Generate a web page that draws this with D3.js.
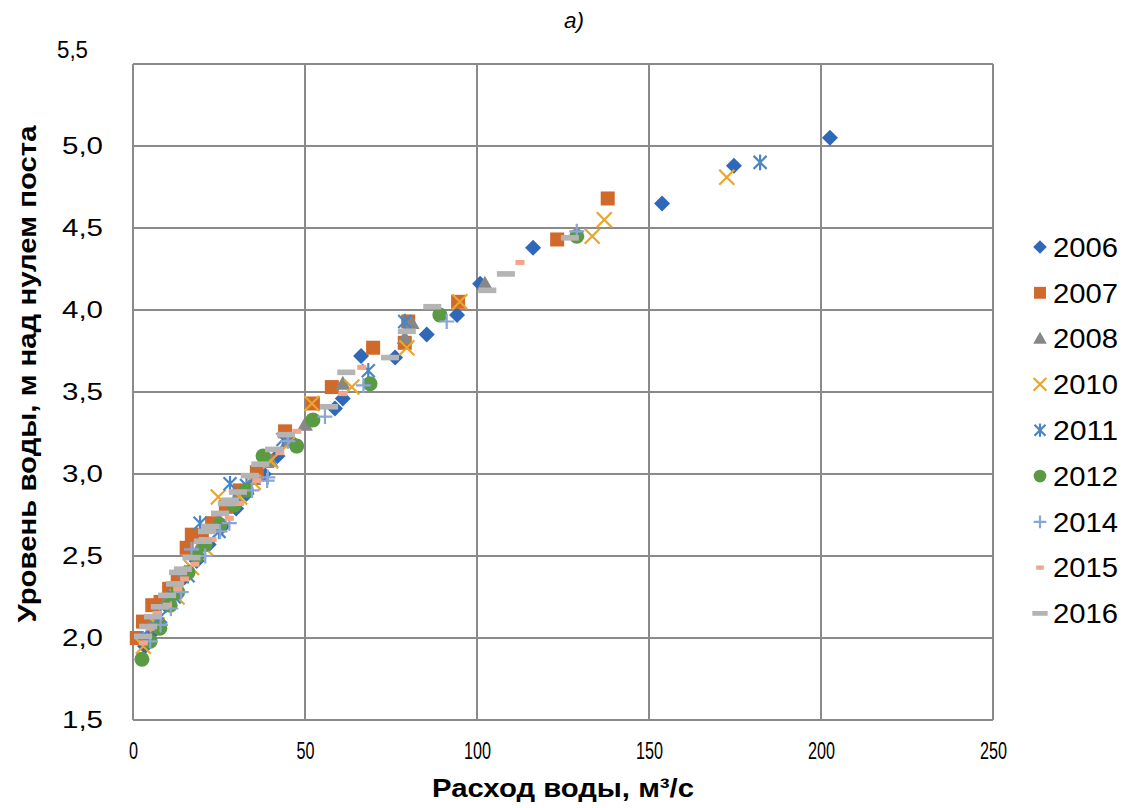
<!DOCTYPE html>
<html><head><meta charset="utf-8">
<script src="https://cdn.jsdelivr.net/npm/d3@7"></script>
<style>
body{margin:0;background:#fff;}
text{font-family:"Liberation Sans",Arial,sans-serif;fill:#000;}
</style></head>
<body><svg id="c" width="1142" height="808"></svg>
<script>
// ---- data ----
const years = ["2006","2007","2008","2010","2011","2012","2014","2015","2016"];
const xTicks = [0,50,100,150,200,250];
const yTicks = [1.5,2.0,2.5,3.0,3.5,4.0,4.5,5.0,5.5];
const s2006 = [[3.5,1.95],[5,2.02],[7,2.1],[9.5,2.2],[12,2.28],[15,2.37],[18.5,2.47],[22,2.57],[26,2.68],[30,2.79],[33,2.88],[38,3.0],[42,3.11],[46,3.2],[58.7,3.40],[61,3.46],[66.3,3.72],[76.2,3.71],[85.4,3.85],[94.2,3.97],[100.9,4.16],[116.3,4.38],[153.8,4.65],[174.7,4.88],[202.6,5.05]];
const s2007 = [[1.1,2.0],[2.9,2.10],[5.6,2.2],[8,2.22],[10.5,2.3],[13,2.37],[15.6,2.55],[17.1,2.63],[20,2.62],[23,2.70],[27,2.80],[31,2.90],[36,3.01],[39,3.08],[44.2,3.26],[52.3,3.43],[57.8,3.53],[69.8,3.77],[79,3.80],[80,3.93],[94.5,4.05],[123.3,4.43],[138,4.68]];
const s2008 = [[6,2.1],[10,2.24],[15,2.4],[20,2.58],[25,2.72],[30,2.85],[35,2.97],[40,3.08],[45,3.2],[50,3.3],[61,3.55],[79,3.83],[81,3.92],[102.3,4.16]];
const s2010 = [[3,1.95],[7,2.08],[12.8,2.25],[17,2.43],[21,2.55],[24.8,2.86],[31,2.86],[35,2.95],[40,3.08],[45,3.18],[52,3.43],[63.6,3.53],[79.6,3.77],[95,4.05],[133.5,4.45],[137,4.55],[172.6,4.81]];
const s2011 = [[4,2.0],[8,2.13],[12,2.25],[16,2.38],[19.5,2.70],[25,2.65],[28.2,2.94],[33,2.93],[43.6,3.21],[68.4,3.63],[79,3.93],[182.3,4.90]];
const s2012 = [[2.6,1.87],[5,1.98],[7.8,2.06],[10.8,2.2],[13,2.28],[16,2.4],[18.6,2.5],[21,2.57],[25.3,2.69],[29.4,2.81],[33,2.9],[37.8,3.11],[47.6,3.17],[52.3,3.33],[68.9,3.55],[89.2,3.97],[129,4.45]];
const s2014 = [[5,1.98],[8,2.08],[11,2.18],[14,2.28],[17,2.54],[21,2.5],[25.3,2.65],[28,2.7],[34.6,2.90],[39,2.96],[39.2,2.98],[45,3.2],[55.8,3.35],[67,3.54],[91.2,3.93],[129,4.48]];
const s2015 = [[3,1.97],[5,2.06],[7,2.15],[10,2.2],[13,2.3],[15,2.36],[18,2.45],[20.4,2.60],[23,2.60],[28,2.73],[31,2.82],[36,2.96],[42.7,3.13],[47.6,3.26],[61,3.49],[66.5,3.65],[112.5,4.29]];
const s2016 = [[2.9,2.01],[4.4,2.07],[5.8,2.13],[7.8,2.19],[9.9,2.26],[12.2,2.33],[13.1,2.40],[14.5,2.42],[17,2.49],[20.3,2.59],[21.5,2.65],[22.4,2.68],[25.3,2.76],[27.3,2.82],[28.2,2.84],[30.5,2.89],[34,2.99],[37,3.06],[41,3.15],[44.5,3.24],[57,3.41],[62,3.62],[74.7,3.71],[79.6,3.87],[87,4.02],[103,4.12],[108.4,4.22],[127,4.44]];
const seriesData = [s2006,s2007,s2008,s2010,s2011,s2012,s2014,s2015,s2016];

// ---- styles ----
const colors = ["#2f67b9","#d0692a","#878787","#e8a62a","#4a86c6","#5a9a42","#8aa5d8","#f2a48c","#b4b4b4"];
const kinds = ["diamond","square","triangle","x","asterisk","circle","plus","dash15","dash16"];

const svg = d3.select("#c");
const x = d3.scaleLinear().domain([0,250]).range([133,993]);
const y = d3.scaleLinear().domain([1.5,5.5]).range([720,64]);
const fmt = v => d3.format(".1f")(v).replace(".",",");

// grid
const g = svg.append("g");
g.selectAll(".vg").data(xTicks).join("line")
  .attr("x1",d=>x(d)).attr("x2",d=>x(d)).attr("y1",y(5.5)).attr("y2",y(1.5))
  .attr("stroke","#8a8a8a").attr("stroke-width",2);
g.selectAll(".hg").data(yTicks).join("line")
  .attr("x1",x(0)).attr("x2",x(250)).attr("y1",d=>y(d)).attr("y2",d=>y(d))
  .attr("stroke","#8a8a8a").attr("stroke-width",2);

// axes
const xa = svg.append("g").attr("transform",`translate(0,${y(1.5)})`)
  .call(d3.axisBottom(x).tickValues(xTicks).tickSize(0).tickPadding(23).tickFormat(d3.format("d")));
xa.select(".domain").remove();
xa.selectAll("text").attr("font-size",23).style("font-family","Liberation Sans, Arial")
  .attr("textLength",function(d){return String(d).length*9;}).attr("lengthAdjust","spacingAndGlyphs");

const ya = svg.append("g").attr("transform",`translate(${x(0)},0)`)
  .call(d3.axisLeft(y).tickValues(yTicks).tickSize(0).tickPadding(30).tickFormat(fmt));
ya.select(".domain").remove();
ya.selectAll("text").attr("font-size",23).style("font-family","Liberation Sans, Arial")
  .attr("textLength",d=>d===5.5?31:41).attr("lengthAdjust","spacingAndGlyphs")
  .attr("transform",d=>d===5.5?"translate(-15,-14)":null);

// markers
function drawMarker(sel,kind,color,s){
  s = s||1;
  if(kind==="diamond"){
    const r=8*s;
    sel.append("path").attr("d",`M0,${-r}L${r},0L0,${r}L${-r},0Z`).attr("fill",color);
  } else if(kind==="square"){
    sel.append("rect").attr("x",-7*s).attr("y",-7*s).attr("width",14*s).attr("height",14*s).attr("fill",color);
  } else if(kind==="triangle"){
    const r=8*s;
    sel.append("path").attr("d",`M0,${-r}L${r},${r*0.75}L${-r},${r*0.75}Z`).attr("fill",color);
  } else if(kind==="circle"){
    sel.append("circle").attr("r",7.5*s).attr("fill",color);
  } else if(kind==="x"){
    const r=7.5*s;
    sel.append("path").attr("d",`M${-r},${-r}L${r},${r}M${-r},${r}L${r},${-r}`).attr("stroke",color).attr("stroke-width",2.2).attr("fill","none");
  } else if(kind==="asterisk"){
    const r=6.5*s;
    sel.append("path").attr("d",`M${-r},${-r}L${r},${r}M${-r},${r}L${r},${-r}M0,${-r*1.2}L0,${r*1.2}`).attr("stroke",color).attr("stroke-width",2.2).attr("fill","none");
  } else if(kind==="plus"){
    const r=7.5*s;
    sel.append("path").attr("d",`M${-r},0L${r},0M0,${-r}L0,${r}`).attr("stroke",color).attr("stroke-width",2.2).attr("fill","none");
  } else if(kind==="dash15"){
    sel.append("rect").attr("x",-4.5*s).attr("y",-2.5*s).attr("width",9*s).attr("height",5*s).attr("fill",color);
  } else if(kind==="dash16"){
    sel.append("rect").attr("x",-9*s).attr("y",-2.8*s).attr("width",18*s).attr("height",5.6*s).attr("fill",color);
  }
}

seriesData.forEach((data,i)=>{
  const sg = svg.append("g");
  sg.selectAll("g").data(data).join("g")
    .attr("transform",d=>`translate(${x(d[0])},${y(d[1])})`)
    .each(function(){ drawMarker(d3.select(this),kinds[i],colors[i],1); });
});

// legend
const lg = svg.append("g");
years.forEach((yr,i)=>{
  const yy = 247 + i*45.8;
  const m = lg.append("g").attr("transform",`translate(1040,${yy})`);
  drawMarker(m,kinds[i],colors[i],0.85);
  lg.append("text").attr("x",1053).attr("y",yy).attr("dy","0.36em").attr("font-size",27)
    .attr("textLength",65).attr("lengthAdjust","spacingAndGlyphs").text(yr);
});

// titles
svg.append("text").attr("x",574).attr("y",28).attr("text-anchor","middle")
  .attr("font-size",22).attr("font-style","italic").attr("textLength",20).attr("lengthAdjust","spacingAndGlyphs").text("a)");
svg.append("text").attr("x",563).attr("y",797).attr("text-anchor","middle")
  .attr("font-size",25).attr("font-weight","bold").attr("textLength",262).attr("lengthAdjust","spacingAndGlyphs")
  .text("Расход воды, м³/с");
svg.append("text").attr("transform","translate(36,374) rotate(-90)").attr("text-anchor","middle")
  .attr("font-size",25).attr("font-weight","bold").attr("textLength",497).attr("lengthAdjust","spacingAndGlyphs")
  .text("Уровень воды, м над нулем поста");
</script></body></html>
